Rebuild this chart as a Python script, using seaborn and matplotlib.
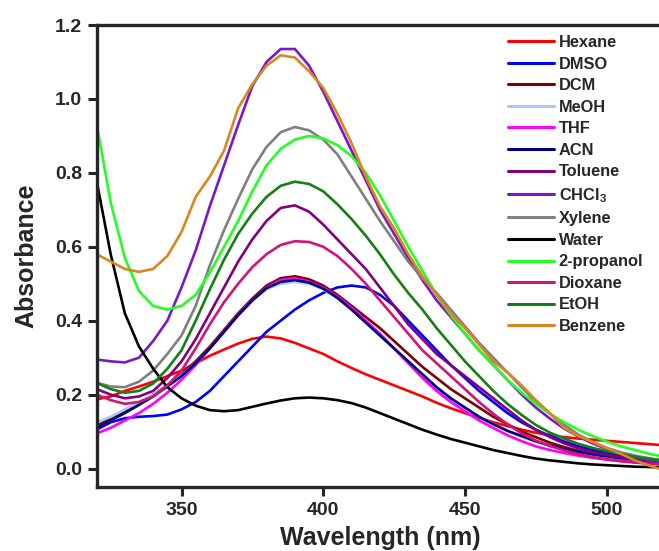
import numpy as np
import pandas as pd
import matplotlib
matplotlib.use("Agg")
import matplotlib.pyplot as plt
import seaborn as sns

# Wavelength grid (nm)
wavelength = list(range(320, 521, 5))

hexane = [0.187, 0.195, 0.21, 0.222, 0.235, 0.25, 0.265, 0.285, 0.305, 0.322, 0.338, 0.351, 0.357,
          0.352, 0.34, 0.325, 0.31, 0.29, 0.272, 0.255, 0.24, 0.225, 0.21, 0.195, 0.178, 0.163, 0.15,
          0.137, 0.125, 0.115, 0.105, 0.097, 0.09, 0.085, 0.081, 0.078, 0.075, 0.072, 0.069, 0.066, 0.063]
dmso = [0.105, 0.125, 0.136, 0.14, 0.142, 0.146, 0.16, 0.18, 0.21, 0.25, 0.29, 0.33, 0.37,
        0.40, 0.43, 0.455, 0.475, 0.49, 0.495, 0.49, 0.47, 0.44, 0.40, 0.36, 0.32, 0.28, 0.245,
        0.21, 0.18, 0.15, 0.125, 0.105, 0.088, 0.073, 0.06, 0.05, 0.042, 0.035, 0.03, 0.025, 0.02]
dcm = [0.115, 0.135, 0.155, 0.175, 0.20, 0.225, 0.255, 0.29, 0.33, 0.375, 0.42, 0.46, 0.495,
       0.515, 0.52, 0.512, 0.495, 0.47, 0.44, 0.41, 0.38, 0.345, 0.31, 0.275, 0.245, 0.215, 0.19,
       0.165, 0.14, 0.12, 0.10, 0.085, 0.07, 0.058, 0.048, 0.04, 0.033, 0.027, 0.022, 0.018, 0.015]
meoh = [0.125, 0.14, 0.16, 0.18, 0.20, 0.225, 0.252, 0.285, 0.325, 0.37, 0.415, 0.455, 0.485,
        0.50, 0.505, 0.50, 0.485, 0.46, 0.43, 0.395, 0.36, 0.325, 0.29, 0.255, 0.22, 0.19, 0.165,
        0.14, 0.12, 0.102, 0.086, 0.072, 0.061, 0.052, 0.044, 0.038, 0.032, 0.027, 0.023, 0.019, 0.016]
thf = [0.095, 0.11, 0.13, 0.15, 0.175, 0.205, 0.24, 0.28, 0.325, 0.37, 0.415, 0.455, 0.49,
       0.51, 0.515, 0.505, 0.49, 0.465, 0.435, 0.40, 0.365, 0.325, 0.285, 0.245, 0.21, 0.18, 0.155,
       0.13, 0.11, 0.09, 0.074, 0.06, 0.05, 0.042, 0.035, 0.029, 0.024, 0.02, 0.017, 0.014, 0.012]
acn = [0.11, 0.13, 0.15, 0.172, 0.195, 0.222, 0.25, 0.285, 0.325, 0.37, 0.415, 0.455, 0.488,
       0.505, 0.51, 0.503, 0.487, 0.462, 0.43, 0.395, 0.36, 0.325, 0.29, 0.255, 0.22, 0.19, 0.165,
       0.14, 0.12, 0.102, 0.088, 0.074, 0.062, 0.053, 0.045, 0.038, 0.033, 0.028, 0.024, 0.02, 0.017]
toluene = [0.215, 0.2, 0.19, 0.195, 0.21, 0.245, 0.29, 0.35, 0.42, 0.49, 0.56, 0.62, 0.67,
           0.705, 0.712, 0.695, 0.66, 0.62, 0.58, 0.54, 0.49, 0.44, 0.39, 0.35, 0.31, 0.28, 0.25,
           0.22, 0.19, 0.16, 0.13, 0.105, 0.085, 0.068, 0.055, 0.045, 0.037, 0.03, 0.025, 0.021, 0.018]
chcl3 = [0.295, 0.29, 0.287, 0.30, 0.345, 0.40, 0.49, 0.59, 0.71, 0.82, 0.93, 1.035, 1.10,
         1.135, 1.135, 1.09, 1.02, 0.94, 0.86, 0.78, 0.70, 0.635, 0.57, 0.51, 0.455, 0.41, 0.365,
         0.32, 0.28, 0.24, 0.2, 0.165, 0.135, 0.108, 0.087, 0.068, 0.053, 0.04, 0.03, 0.022, 0.016]
xylene = [0.232, 0.222, 0.22, 0.235, 0.265, 0.31, 0.36, 0.44, 0.55, 0.645, 0.73, 0.81, 0.87,
          0.91, 0.924, 0.915, 0.89, 0.85, 0.79, 0.73, 0.67, 0.615, 0.56, 0.515, 0.475, 0.43, 0.385,
          0.34, 0.30, 0.26, 0.22, 0.18, 0.148, 0.118, 0.092, 0.072, 0.056, 0.044, 0.035, 0.028, 0.022]
water = [0.78, 0.58, 0.42, 0.33, 0.27, 0.22, 0.19, 0.17, 0.158, 0.155, 0.158, 0.167, 0.176,
         0.184, 0.19, 0.192, 0.19, 0.185, 0.177, 0.165, 0.15, 0.135, 0.12, 0.105, 0.092, 0.08, 0.07,
         0.06, 0.05, 0.042, 0.034, 0.027, 0.022, 0.018, 0.014, 0.011, 0.009, 0.007, 0.005, 0.004, 0.003]
propanol = [0.935, 0.72, 0.57, 0.48, 0.44, 0.43, 0.44, 0.47, 0.53, 0.60, 0.67, 0.75, 0.82,
            0.865, 0.89, 0.90, 0.893, 0.875, 0.845, 0.80, 0.74, 0.67, 0.60, 0.535, 0.47, 0.415, 0.365,
            0.32, 0.28, 0.24, 0.205, 0.175, 0.148, 0.125, 0.105, 0.088, 0.073, 0.06, 0.05, 0.04, 0.032]
dioxane = [0.20, 0.185, 0.175, 0.18, 0.195, 0.225, 0.265, 0.325, 0.39, 0.45, 0.50, 0.545, 0.58,
           0.605, 0.615, 0.613, 0.60, 0.575, 0.54, 0.50, 0.455, 0.41, 0.365, 0.32, 0.285, 0.25, 0.215,
           0.18, 0.148, 0.12, 0.095, 0.076, 0.061, 0.049, 0.039, 0.031, 0.025, 0.02, 0.016, 0.013, 0.01]
etoh = [0.232, 0.215, 0.205, 0.21, 0.23, 0.27, 0.32, 0.40, 0.485, 0.565, 0.635, 0.69, 0.735,
        0.765, 0.776, 0.77, 0.75, 0.715, 0.675, 0.63, 0.58, 0.525, 0.475, 0.43, 0.38, 0.335, 0.29,
        0.25, 0.21, 0.175, 0.145, 0.118, 0.097, 0.081, 0.067, 0.056, 0.047, 0.039, 0.032, 0.026, 0.021]
benzene = [0.58, 0.56, 0.54, 0.532, 0.54, 0.575, 0.64, 0.735, 0.79, 0.86, 0.975, 1.04, 1.09,
           1.118, 1.112, 1.075, 1.03, 0.96, 0.88, 0.79, 0.71, 0.65, 0.58, 0.52, 0.47, 0.42, 0.38,
           0.335, 0.29, 0.26, 0.225, 0.185, 0.15, 0.11, 0.088, 0.072, 0.055, 0.04, 0.022, 0.008, -0.004]

solvents = ["Hexane", "DMSO", "DCM", "MeOH", "THF", "ACN", "Toluene", "CHCl$_\\mathrm{3}$",
            "Xylene", "Water", "2-propanol", "Dioxane", "EtOH", "Benzene"]
spectra = [hexane, dmso, dcm, meoh, thf, acn, toluene, chcl3,
           xylene, water, propanol, dioxane, etoh, benzene]
colors = ["#FF0000", "#0000FF", "#800000", "#A6CAF0", "#FF00FF", "#000080", "#800080",
          "#7A17C8", "#808080", "#000000", "#22FF22", "#D01478", "#128012", "#D98620"]

df = pd.concat(
    [pd.DataFrame({"Wavelength": wavelength, "Absorbance": s, "Solvent": name})
     for name, s in zip(solvents, spectra)],
    ignore_index=True,
)

sns.set_style("ticks")
plt.rcParams["font.family"] = ["Liberation Sans", "DejaVu Sans"]
plt.rcParams["font.weight"] = "bold"
plt.rcParams["mathtext.fontset"] = "custom"
plt.rcParams["mathtext.rm"] = "Liberation Sans:bold"
plt.rcParams["mathtext.it"] = "Liberation Sans:bold"
plt.rcParams["mathtext.bf"] = "Liberation Sans:bold"

fig = plt.figure(figsize=(6.59, 5.51), dpi=100)
ax = fig.add_axes([96.5 / 659, 64 / 551, 566.8 / 659, 462 / 551])

sns.lineplot(data=df, x="Wavelength", y="Absorbance", hue="Solvent",
             hue_order=solvents, palette=dict(zip(solvents, colors)),
             linewidth=1.9, ax=ax, legend=False, sort=False)

ax.set_xlim(320, 520)
ax.set_ylim(-0.05, 1.2)
ax.set_xticks([350, 400, 450, 500])
ax.set_yticks([0.0, 0.2, 0.4, 0.6, 0.8, 1.0, 1.2])
ax.set_yticklabels(["0.0", "0.2", "0.4", "0.6", "0.8", "1.0", "1.2"])
ax.tick_params(axis="both", direction="out", length=6.5, width=2.2, labelsize=14, pad=4)
for lab in ax.get_xticklabels() + ax.get_yticklabels():
    lab.set_fontweight("bold")
for sp in ax.spines.values():
    sp.set_linewidth(2.4)

ax.set_xlabel("Wavelength (nm)", fontsize=18, fontweight="bold", labelpad=5)
ax.set_ylabel("Absorbance", fontsize=18, fontweight="bold", labelpad=12)

handles = [plt.Line2D([], [], color=c, linewidth=2.2) for c in colors]
ax.legend(handles, solvents, loc="upper left", bbox_to_anchor=(508 / 659, 1 - 35 / 551),
          bbox_transform=fig.transFigure, frameon=False, borderpad=0, borderaxespad=0,
          handlelength=2.8, handletextpad=0.3, labelspacing=0.4,
          prop={"size": 11.8, "weight": "bold"})

fig.savefig("out.png", dpi=100)
